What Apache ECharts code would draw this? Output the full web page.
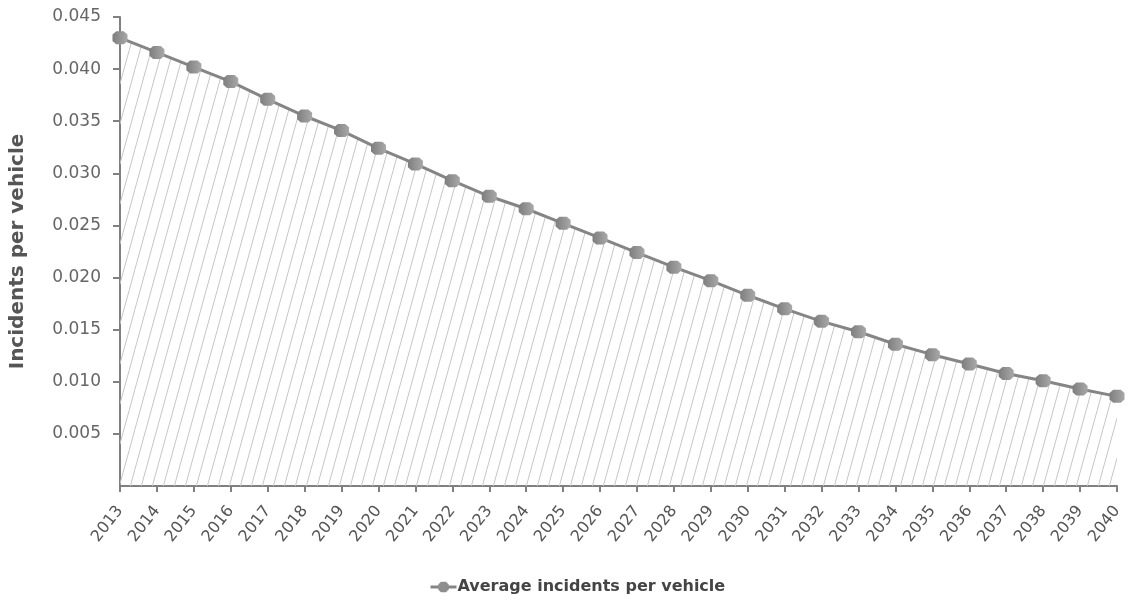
<!DOCTYPE html>
<html>
<head>
<meta charset="utf-8">
<style>
  html, body { margin: 0; padding: 0; background: #fff; }
  #chart { width: 1136px; height: 602px; }
</style>
<script src="https://cdn.jsdelivr.net/npm/echarts@6/dist/echarts.min.js"></script>
</head>
<body>
<div id="chart"></div>
<script>
// Projected average incidents per vehicle, 2013–2040
const years = ['2013','2014','2015','2016','2017','2018','2019','2020','2021','2022',
  '2023','2024','2025','2026','2027','2028','2029','2030','2031','2032',
  '2033','2034','2035','2036','2037','2038','2039','2040'];
const incidents = [0.0430, 0.0416, 0.0402, 0.0388, 0.0371, 0.0355, 0.0341, 0.0324, 0.0309, 0.0293,
  0.0278, 0.0266, 0.0252, 0.0238, 0.0224, 0.0210, 0.0197, 0.0183, 0.0170, 0.0158,
  0.0148, 0.0136, 0.0126, 0.0117, 0.0108, 0.0101, 0.0093, 0.0086];
const seriesName = 'Average incidents per vehicle';

// Diagonal hatch tile used to fill the area under the line
function hatchTile() {
  const w = 11, h = 40;
  const c = document.createElement('canvas');
  c.width = w; c.height = h;
  const ctx = c.getContext('2d');
  ctx.strokeStyle = '#c6c6c6';
  ctx.lineWidth = 1;
  ctx.beginPath();
  for (let k = -1; k <= 1; k++) {
    ctx.moveTo(k * w, h);
    ctx.lineTo(k * w + w, 0);
  }
  ctx.stroke();
  return c;
}

const octagon = 'path://M3,0 L9,0 L12,3 L12,9 L9,12 L3,12 L0,9 L0,3 Z';
const font = '"DejaVu Sans", Verdana, sans-serif';

const chart = echarts.init(document.getElementById('chart'));
chart.setOption({
  animation: false,
  textStyle: { fontFamily: font },
  grid: { left: 120, right: 19, top: 17, bottom: 116, containLabel: false },
  legend: {
    bottom: 2,
    left: 424,
    itemWidth: 26,
    itemHeight: 13,
    itemGap: 4,
    textStyle: { fontSize: 16, fontWeight: 'bold', color: '#444', fontFamily: font, padding: [0, 0, 0, -4] },
    data: [{
      name: seriesName,
      itemStyle: { color: '#8e8e8e' },
      lineStyle: { width: 3, color: '#858585' }
    }]
  },
  xAxis: {
    type: 'category',
    data: years,
    boundaryGap: false,
    axisLine: { lineStyle: { color: '#808080', width: 2 } },
    axisTick: { show: true, length: 6, lineStyle: { color: '#808080', width: 2 } },
    axisLabel: { rotate: 52, fontSize: 16, color: '#555', margin: 22, interval: 0 },
    splitLine: { show: false }
  },
  yAxis: {
    type: 'value',
    min: 0,
    max: 0.045,
    interval: 0.005,
    name: 'Incidents per vehicle',
    nameLocation: 'middle',
    nameGap: 92,
    nameTextStyle: { fontSize: 20, fontWeight: 'bold', color: '#555', fontFamily: font },
    axisLine: { show: true, lineStyle: { color: '#808080', width: 2 } },
    axisTick: { show: true, length: 7, lineStyle: { color: '#808080', width: 2 } },
    axisLabel: {
      showMinLabel: false,
      fontSize: 17,
      color: '#666',
      margin: 19,
      formatter: v => v.toFixed(3)
    },
    splitLine: { show: false }
  },
  series: [{
    name: seriesName,
    type: 'line',
    data: incidents,
    symbol: octagon,
    symbolSize: [15, 13],
    lineStyle: { color: '#858585', width: 3 },
    itemStyle: {
      color: new echarts.graphic.LinearGradient(0, 0, 1, 0, [
        { offset: 0, color: '#7e7e7e' },
        { offset: 1, color: '#a8a8a8' }
      ]),
      borderWidth: 0
    },
    areaStyle: {
      color: { image: hatchTile(), repeat: 'repeat' },
      opacity: 1
    },
    z: 3
  }]
});
</script>
</body>
</html>
